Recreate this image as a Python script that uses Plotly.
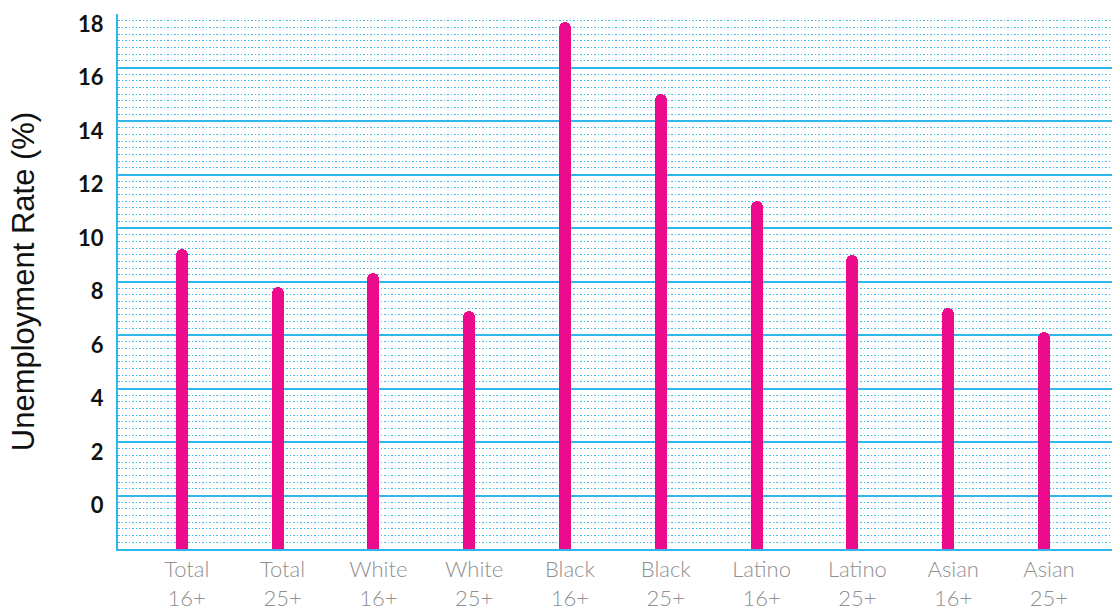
import plotly.graph_objects as go

# Unemployment rate by group and age band
groups = ["Total", "Total", "White", "White", "Black", "Black",
          "Latino", "Latino", "Asian", "Asian"]
ages = ["16+", "25+", "16+", "25+", "16+", "25+", "16+", "25+", "16+", "25+"]
rates = [9.2, 7.8, 8.3, 6.9, 17.7, 15.0, 11.0, 9.0, 7.0, 6.1]
y_ticks = [0, 2, 4, 6, 8, 10, 12, 14, 16, 18]

axis_floor = -2
# bars start below the visible floor so the clipped bottom ends square
bar_base = -3
labels = [f"{g}<br>{a}" for g, a in zip(groups, ages)]
positions = list(range(len(labels)))

fig = go.Figure(
    go.Bar(
        x=positions,
        y=[r - bar_base for r in rates],
        base=bar_base,
        width=0.125,
        marker=dict(color="#EC0B8D", line=dict(width=0), cornerradius=6),
        hovertemplate="%{text}: %{customdata}%<extra></extra>",
        text=[f"{g} {a}" for g, a in zip(groups, ages)],
        textposition="none",
        customdata=rates,
    )
)

grid_blue = "#2FB6EB"

fig.update_layout(
    width=1112,
    height=609,
    margin=dict(l=118, r=0, t=14, b=60),
    paper_bgcolor="white",
    plot_bgcolor="white",
    showlegend=False,
    bargap=0,
)

fig.update_xaxes(
    range=[-0.665, 9.71],
    automargin=False,
    tickmode="array",
    tickvals=positions,
    ticktext=labels,
    showgrid=False,
    zeroline=False,
    showline=True,
    linecolor=grid_blue,
    linewidth=2,
    ticks="",
    ticklabelshift=5,
    tickfont=dict(family="Lato", size=22, color="#8f8f8f", weight=300),
)

fig.update_yaxes(
    range=[axis_floor, 18],
    automargin=False,
    tickmode="array",
    tickvals=y_ticks,
    showgrid=True,
    gridcolor=grid_blue,
    gridwidth=2,
    zeroline=False,
    showline=True,
    linecolor=grid_blue,
    linewidth=2,
    ticks="",
    ticklabelstandoff=8,
    ticklabelshift=10,
    tickfont=dict(family="Lato", size=22, color="#111111", weight=700),
    title=dict(
        text="Unemployment Rate (%)",
        font=dict(family="Liberation Sans", size=31, color="#111111"),
        standoff=34,
    ),
    minor=dict(
        tickmode="linear",
        tick0=0,
        dtick=0.25,
        showgrid=True,
        gridcolor="#3FBDED",
        gridwidth=1,
        griddash="1.5px,2px",
    ),
)

fig.write_html("out.html")
